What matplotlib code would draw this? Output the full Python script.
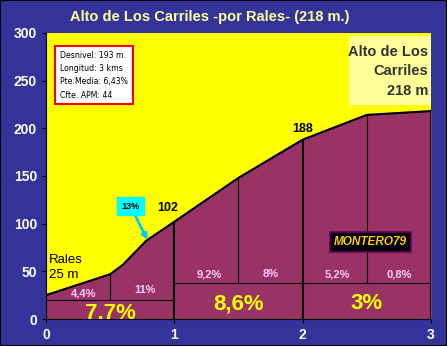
import matplotlib.pyplot as plt
from matplotlib.patches import Rectangle

plt.rcParams['font.family'] = ['Liberation Sans', 'DejaVu Sans']

# profile (km, m)
km = [0, 0.5, 0.6, 0.78, 1.0, 1.5, 2.0, 2.5, 3.0]
alt = [25, 47, 57, 82, 102, 148, 188, 214, 218]

# half-km gradients
half_x = [0.29, 0.77, 1.27, 1.75, 2.27, 2.75]
half_lbl = ["4,4%", "11%", "9,2%", "8%", "5,2%", "0,8%"]
half_y = [27, 30, 47, 47, 47, 47]

# km gradients
km_x = [0.5, 1.5, 2.5]
km_lbl = ["7,7%", "8,6%", "3%"]
km_y = [6, 16, 16]
km_base = [20, 38, 38]

fill_col = "#993366"
bg = "#333399"

fig = plt.figure(figsize=(4.47, 3.46), dpi=100, facecolor=bg)
ax = fig.add_axes([0.103, 0.078, 0.861, 0.827])
ax.set_facecolor("#FFFF00")

ax.fill_between(km, alt, 0, color=fill_col, zorder=1)
ax.plot(km, alt, color="black", lw=1.5, zorder=3)

# grid lines inside profile
def alt_at(x):
    for i in range(len(km) - 1):
        if km[i] <= x <= km[i + 1]:
            t = (x - km[i]) / (km[i + 1] - km[i])
            return alt[i] + t * (alt[i + 1] - alt[i])
    return alt[-1]

ax.plot([0, 1], [km_base[0]] * 2, color="black", lw=0.8, zorder=2)
ax.plot([1, 3], [km_base[1]] * 2, color="black", lw=0.8, zorder=2)
for x, b in [(0.5, km_base[0]), (1.5, km_base[1]), (2.5, km_base[2])]:
    ax.plot([x, x], [b, alt_at(x)], color="black", lw=0.8, zorder=2)
for x in [1, 2, 3]:
    ax.plot([x, x], [0, alt_at(x)], color="black", lw=1.5, zorder=2)

for x, y, s in zip(half_x, half_y, half_lbl):
    ax.text(x, y, s, color="#FFCCFF", fontsize=8, fontweight="bold",
            ha="center", va="center", zorder=4)
for x, y, s in zip(km_x, km_y, km_lbl):
    ax.text(x, y, s, color="#FFFF00", fontsize=16, fontweight="bold",
            ha="center", va="center", zorder=4, clip_on=True)

ax.text(0.02, 54, "Rales\n25 m", fontsize=9.5, ha="left", va="center",
        linespacing=1.35, zorder=4)
ax.text(0.95, 113, "102", fontsize=9, fontweight="bold", ha="center", zorder=4)
ax.text(2.0, 196, "188", fontsize=9, fontweight="bold", ha="center", zorder=4)

ax.annotate("13%", xy=(0.79, 83), xytext=(0.66, 118),
            fontsize=6.5, fontweight="bold", ha="center", va="center",
            bbox=dict(boxstyle="square,pad=0.5", fc="#00FFFF", ec="#00FFFF"),
            arrowprops=dict(arrowstyle="-|>", color="#00CCFF", lw=2,
                            mutation_scale=8, shrinkA=0, shrinkB=0),
            zorder=5)

ax.text(2.53, 81, "MONTERO79", fontsize=8.5, fontweight="bold", style="italic",
        color="#FFCC00", ha="center", va="center", zorder=5,
        bbox=dict(boxstyle="square,pad=0.35", fc="black", ec="#660066", lw=1.2))

ax.text(0.11, 281, "Desnivel: 193 m.\nLongitud: 3 kms\nPte.Media: 6,43%\nCfte. APM: 44",
        fontsize=5.6, ha="left", va="top", linespacing=1.6, zorder=5,
        family=["DejaVu Sans"],
        bbox=dict(boxstyle="square,pad=0.6", fc="white", ec="red", lw=1.5))

ax.add_patch(Rectangle((2.36, 224), 0.64, 73, fc="#FFFF99", ec="none", zorder=1))
ax.text(2.98, 260, "Alto de Los\nCarriles\n218 m", fontsize=10.5,
        fontweight="bold", color="#333333", ha="right", va="center",
        linespacing=1.5, zorder=5)

ax.set_xlim(0, 3)
ax.set_ylim(0, 300)
ax.set_xticks([0, 1, 2, 3])
ax.set_yticks(range(0, 301, 50))
ax.tick_params(colors="black", labelcolor="white", labelsize=10, length=3)
for lbl in ax.get_xticklabels() + ax.get_yticklabels():
    lbl.set_fontweight("bold")
for side in ["top", "right"]:
    ax.spines[side].set_visible(False)
for side in ["left", "bottom"]:
    ax.spines[side].set_color("black")

fig.text(0.47, 0.951, "Alto de Los Carriles -por Rales- (218 m.)",
         color="#FFFF99", fontsize=10.5, fontweight="bold", ha="center", va="center")

fig.patches.append(Rectangle((0, 0), 1, 1, transform=fig.transFigure,
                             fill=False, ec="black", lw=1.5))

fig.savefig("out.png", dpi=100, facecolor=bg)
